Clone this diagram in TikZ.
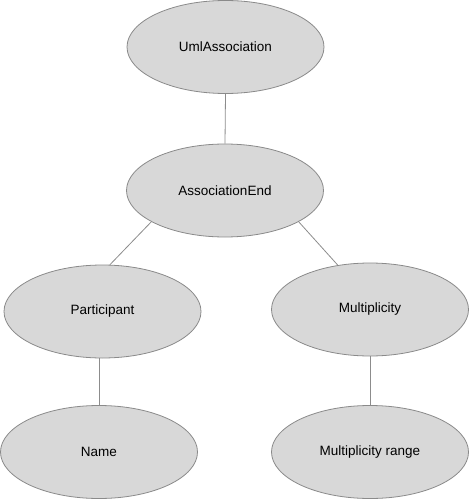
\documentclass[tikz,border=0pt]{standalone}
\usepackage{fontspec}
\setmainfont{Liberation Sans}
\usetikzlibrary{shapes.geometric}
\definecolor{fillgray}{HTML}{D8D8D8}
\definecolor{edgegray}{HTML}{8A8A8A}
\definecolor{linegray}{HTML}{8C8C8C}
\begin{document}
\begin{tikzpicture}[x=1pt,y=-1pt,
  ell/.style={ellipse, draw=edgegray, fill=fillgray, line width=0.8pt,
    minimum width=197pt, minimum height=93pt, inner sep=0pt,
    font=\fontsize{13.5}{16}\selectfont, text=black},
  conn/.style={draw=linegray, line width=0.8pt}]
\useasboundingbox (0,0) rectangle (469,500);
\node[ell] (u)  at (225.5,47)   {UmlAssociation};
\node[ell] (ae) at (225,190.5)  {AssociationEnd};
\node[ell] (p)  at (102.5,311.5){Participant};
\node[ell] (m)  at (370,309.5)  {Multiplicity};
\node[ell] (n)  at (99,452)     {Name};
\node[ell] (mr) at (370,452)    {Multiplicity range};
\draw[conn] (u.south) -- (ae.north);
\draw[conn] (ae.203) -- (p.81);
\draw[conn] (ae.337) -- (m.126);
\draw[conn] (n.north) -- (n.north |- p.south);
\draw[conn] (mr.north) -- (m.south);
\end{tikzpicture}
\end{document}
